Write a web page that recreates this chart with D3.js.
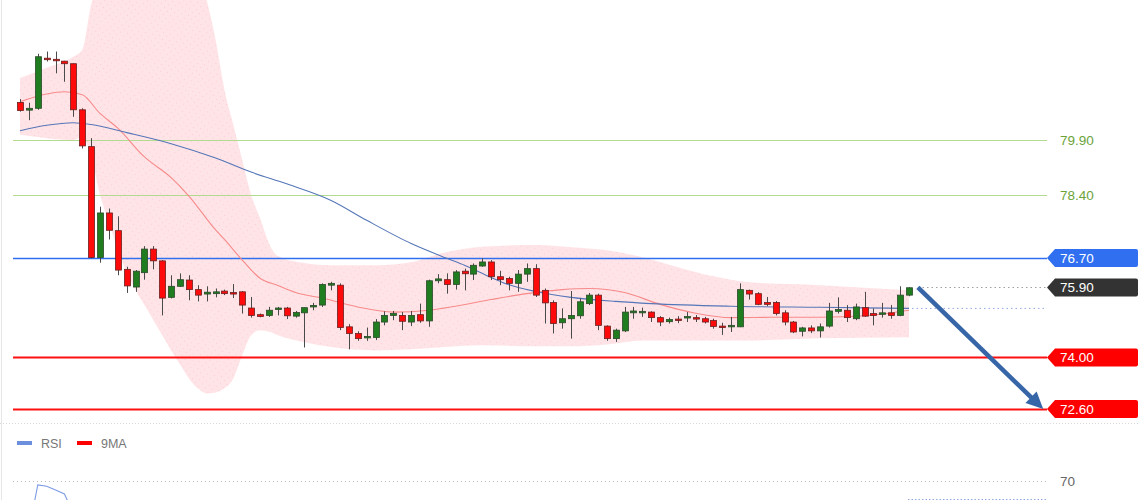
<!DOCTYPE html>
<html><head><meta charset="utf-8">
<script src="https://cdn.jsdelivr.net/npm/d3@7"></script>
<style>html,body{margin:0;padding:0;background:#fff;} svg{display:block;font-family:"Liberation Sans",Arial,sans-serif;}</style>
</head><body><svg id="chart" width="1140" height="500"></svg>
<script>
// ---------- data ----------
const opens = [80.92,80.71,80.76,82.12,82.09,82.04,81.97,80.72,79.72,76.71,
77.92,77.44,76.39,75.91,76.30,76.94,76.62,75.63,75.93,76.10,
75.84,75.72,75.73,75.80,75.76,75.78,75.34,75.16,75.14,75.30,
75.34,75.12,75.21,75.37,75.42,75.96,75.96,74.83,74.65,74.54,
74.54,74.96,75.14,75.14,74.96,75.16,74.99,76.08,76.11,75.98,
76.34,76.26,76.48,76.59,76.19,76.14,76.01,76.26,76.41,75.82,
75.49,74.94,75.05,75.13,75.46,75.69,74.85,74.51,74.72,75.21,
75.22,75.23,75.08,74.97,75.04,75.07,75.08,75.05,75.00,74.85,
74.83,74.83,75.82,75.73,75.49,75.49,75.21,74.96,74.71,74.80,
74.72,74.85,75.25,75.28,75.05,75.35,75.19,75.17,75.21,75.14,
75.69];
const highs = [81.01,80.91,82.24,82.30,82.30,82.05,81.98,80.76,79.95,78.09,
78.04,77.83,76.46,76.37,77.02,77.02,76.64,76.23,76.28,76.23,
75.96,75.93,75.87,75.84,75.99,75.80,75.64,75.19,75.37,75.37,
75.37,75.26,75.35,75.48,76.01,76.05,76.01,74.90,74.71,74.81,
75.04,75.25,75.26,75.23,75.26,75.46,76.11,76.26,76.28,76.37,
76.41,76.55,76.69,76.64,76.35,76.19,76.37,76.55,76.53,75.87,
75.55,75.33,75.80,75.60,75.75,75.73,74.87,74.78,75.37,75.37,
75.35,75.25,75.12,75.08,75.12,75.23,75.15,75.10,75.05,74.94,
75.10,76.01,75.84,75.77,75.64,75.53,75.28,74.99,74.83,74.87,
74.92,75.48,75.63,75.42,75.46,75.78,75.33,75.48,75.42,75.93,
75.90];
const lows = [80.67,80.44,80.72,82.03,81.71,81.48,80.53,79.67,76.69,76.57,
77.20,76.23,75.75,75.78,76.11,76.39,75.14,75.60,75.91,75.55,
75.52,75.52,75.63,75.69,75.61,75.19,75.08,75.09,75.10,75.14,
75.04,75.08,74.27,75.28,75.37,75.82,74.74,74.22,74.45,74.45,
74.47,74.87,75.01,74.74,74.85,74.94,74.83,76.01,75.73,75.84,
75.82,76.10,76.46,76.10,75.96,75.82,75.78,76.05,75.64,74.92,
74.65,74.78,74.51,75.05,75.42,74.74,74.45,74.42,74.69,75.05,
75.10,74.96,74.85,74.92,74.93,74.96,74.96,74.92,74.78,74.61,
74.69,74.82,75.57,75.42,75.39,75.14,74.87,74.66,74.57,74.66,
74.54,74.81,75.19,74.96,75.01,75.10,74.87,75.08,75.05,75.12,
75.66];
const closes = [80.70,80.76,82.16,82.09,82.05,81.97,80.72,79.74,76.71,77.92,
77.45,76.37,75.94,76.34,76.94,76.62,75.61,75.93,76.11,75.84,
75.69,75.77,75.78,75.73,75.73,75.42,75.14,75.11,75.28,75.34,
75.13,75.22,75.35,75.41,75.98,76.01,74.81,74.65,74.51,74.57,
74.96,75.14,75.19,74.98,75.14,74.99,76.08,76.13,75.98,76.32,
76.27,76.50,76.59,76.19,76.11,76.01,76.26,76.41,75.69,75.48,
74.92,75.05,75.14,75.51,75.69,74.87,74.51,74.74,75.23,75.26,
75.25,75.08,74.96,75.03,75.00,75.11,75.04,74.96,74.84,74.81,
74.87,75.84,75.72,75.44,75.44,75.19,74.96,74.69,74.80,74.72,
74.83,75.26,75.30,75.08,75.37,75.12,75.14,75.21,75.14,75.69,
75.89];

// Bollinger band at candle indices
const bandIdx   = [0,3,6,7,8,9,10,11,12,13,14,15,16,17,18,19,20,21,22,23,24,25,26,27,28,29,32,35,40,44,47,52,58,62,66,70,74,78,82,90,100];
const bandUpper = [81.58,81.86,82.16,82.35,83.57,84.30,84.80,85.10,85.25,85.30,85.30,85.30,85.30,85.25,85.20,85.00,84.60,83.70,82.62,81.26,80.31,79.36,78.41,77.78,77.10,76.75,76.56,76.50,76.50,76.58,76.80,77.00,77.05,76.99,76.91,76.72,76.45,76.20,76.04,75.96,75.82];
const bandLower = [80.04,79.95,79.90,79.98,79.45,78.41,77.67,76.91,76.31,75.82,75.42,75.01,74.60,74.19,73.81,73.43,73.16,73.02,73.05,73.16,73.43,74.06,74.60,74.74,74.70,74.60,74.41,74.28,74.19,74.22,74.27,74.33,74.30,74.30,74.35,74.46,74.46,74.46,74.46,74.52,74.55];

// short moving average (red)
const maShortIdx = [0,3,5,7,9,11,14,17,19,22,23,25,27,29,31,34,38,42,46,49,53,57,61,64,68,72,76,80,85,90,95,100];
const maShortVal = [80.94,81.15,81.21,81.13,80.62,80.22,79.44,78.88,78.38,77.46,77.20,76.64,76.15,75.95,75.76,75.61,75.37,75.23,75.28,75.39,75.57,75.73,75.84,75.87,75.76,75.44,75.20,75.08,75.09,75.09,75.13,75.28];
// long moving average (blue)
const maLongIdx = [0,3,6,8,12,17,22,26,30,35,39,44,48,50,53,55,58,62,67,71,80,90,100];
const maLongVal = [80.15,80.30,80.37,80.32,80.10,79.80,79.41,79.03,78.71,78.26,77.72,77.09,76.69,76.50,76.17,75.97,75.79,75.63,75.52,75.46,75.39,75.36,75.33];

// key levels
const levelValues = [79.90, 78.40, 76.70, 75.90, 74.00, 72.60];
const levelLabels = ["79.90","78.40","76.70","75.90","74.00","72.60"];
const levelKinds  = ["target","target","pivot","last","support","support"];

// RSI pane
const rsiIdx = [1,2,3,4,5,6];
const rsiVal = [32,67,66,63,60,45];
const rsiLast = 56;
const rsiLevels = [70];
const legendNames = ["RSI","9MA"];

// ---------- drawing ----------
const svg = d3.select("#chart");
const W = 1140;
const x = d3.scaleLinear().domain([0, 100]).range([20, 909]);
const y = d3.scaleLinear().domain([72.6, 79.9]).range([409, 140]);
const yR = d3.scaleLinear().domain([30, 70]).range([533, 481]);

const defs = svg.append("defs");
const pat = defs.append("pattern").attr("id","dots").attr("patternUnits","userSpaceOnUse")
  .attr("width",5).attr("height",5).attr("patternTransform","rotate(-35)");
pat.append("rect").attr("width",5).attr("height",5).attr("fill","#ffe4e7");
pat.append("rect").attr("x",0).attr("y",0).attr("width",1).attr("height",1).attr("fill","#f9cdd3");
defs.append("clipPath").attr("id","mainClip").append("rect").attr("x",0).attr("y",0).attr("width",W).attr("height",423);
defs.append("clipPath").attr("id","rsiClip").append("rect").attr("x",0).attr("y",425).attr("width",W).attr("height",75);

svg.append("rect").attr("width",W).attr("height",500).attr("fill","#ffffff");

const main = svg.append("g").attr("clip-path","url(#mainClip)");

// band
const bandData = bandIdx.map((d,i)=>({i:d,u:bandUpper[i],l:bandLower[i]}));
main.append("path").datum(bandData)
  .attr("d", d3.area().x(d=>x(d.i)).y0(d=>y(d.l)).y1(d=>y(d.u)).curve(d3.curveMonotoneX))
  .attr("fill","url(#dots)");

// level lines
const levelStyle = {
  target:{stroke:"#b3db8f", w:1, box:null, text:"#6ba33a"},
  pivot:{stroke:"#2f6ff0", w:1.3, box:"#2f6ff0", text:"#fff"},
  last:{stroke:"#a0a0a0", w:1, box:"#333333", text:"#fff"},
  support:{stroke:"#ff1010", w:2, box:"#ff0000", text:"#fff"}
};
levelValues.forEach((v,i)=>{
  const s = levelStyle[levelKinds[i]];
  const yy = Math.round(y(v))+0.5;
  if (levelKinds[i]==="last") {
    main.append("line").attr("x1",918).attr("x2",1047).attr("y1",yy).attr("y2",yy)
      .attr("stroke",s.stroke).attr("stroke-width",1).attr("stroke-dasharray","1.5,3");
  } else {
    main.append("line").attr("x1",13).attr("x2",1047).attr("y1",yy).attr("y2",yy)
      .attr("stroke",s.stroke).attr("stroke-width",s.w);
  }
});

// MA marker dotted
const maLast = maLongVal[maLongVal.length-1];
main.append("line").attr("x1",903).attr("x2",1047).attr("y1",y(maLast)).attr("y2",y(maLast))
  .attr("stroke","#8fa9e0").attr("stroke-width",1).attr("stroke-dasharray","1.5,3");

// moving averages
const lineGen = d3.line().x(d=>x(d[0])).y(d=>y(d[1])).curve(d3.curveMonotoneX);
main.append("path").datum(maShortIdx.map((d,i)=>[d,maShortVal[i]]))
  .attr("d",lineGen).attr("fill","none").attr("stroke","#f78a8a").attr("stroke-width",1.1);
main.append("path").datum(maLongIdx.map((d,i)=>[d,maLongVal[i]]))
  .attr("d",lineGen).attr("fill","none").attr("stroke","#5576b8").attr("stroke-width",1.1);

// candles
const candles = opens.map((o,i)=>({i,o,h:highs[i],l:lows[i],c:closes[i]}));
const cg = main.append("g");
cg.selectAll("line.wick").data(candles).join("line").attr("class","wick")
  .attr("x1",d=>Math.round(x(d.i))+0.5).attr("x2",d=>Math.round(x(d.i))+0.5)
  .attr("y1",d=>y(d.h)).attr("y2",d=>y(d.l)).attr("stroke","#4a4a4a").attr("stroke-width",1);
cg.selectAll("rect.body").data(candles).join("rect").attr("class","body")
  .attr("x",d=>Math.round(x(d.i))-2.5).attr("width",6)
  .attr("y",d=>y(Math.max(d.o,d.c)))
  .attr("height",d=>Math.max(1.5, Math.abs(y(d.o)-y(d.c))))
  .attr("fill",d=>d.c>=d.o?"#1f7d1f":"#ff0a0a")
  .attr("stroke",d=>d.c>=d.o?"#2b4a2b":"#6b2020").attr("stroke-width",0.8);

// arrow
const ax1 = x(101), ay1 = y(levelValues[3]), ax2 = x(115.1), ay2 = y(levelValues[5]);
const ang = Math.atan2(ay2-ay1, ax2-ax1);
const headL = 17, headW = 8;
const bx = ax2 - headL*Math.cos(ang), by = ay2 - headL*Math.sin(ang);
main.append("line").attr("x1",ax1).attr("y1",ay1).attr("x2",bx+2*Math.cos(ang)).attr("y2",by+2*Math.sin(ang))
  .attr("stroke","#3766a8").attr("stroke-width",4.5).attr("stroke-linecap","butt");
main.append("path").attr("d",`M${ax2},${ay2}L${bx+headW*Math.sin(ang)},${by-headW*Math.cos(ang)}L${bx-headW*Math.sin(ang)},${by+headW*Math.cos(ang)}Z`)
  .attr("fill","#3766a8");

// labels
levelValues.forEach((v,i)=>{
  const s = levelStyle[levelKinds[i]];
  const cy = y(v);
  if (s.box) {
    svg.append("path").attr("d",`M1047,${cy}L1055,${cy-9}L1136,${cy-9}Q1138,${cy-9} 1138,${cy-7}L1138,${cy+7}Q1138,${cy+9} 1136,${cy+9}L1055,${cy+9}Z`)
      .attr("fill",s.box);
  }
  svg.append("text").attr("x",1060).attr("y",cy+4.6).attr("font-size",13.5)
    .attr("fill",s.text).text(levelLabels[i]);
});

// separator & border
svg.append("line").attr("x1",0).attr("x2",W).attr("y1",423.5).attr("y2",423.5)
  .attr("stroke","#d8d8d8").attr("stroke-width",1).attr("stroke-dasharray","1,2");
svg.append("line").attr("x1",1.5).attr("x2",1.5).attr("y1",0).attr("y2",500)
  .attr("stroke","#e6e6e6").attr("stroke-width",1);

// legend
const legendColors = ["#6b8fdc","#ff0000"];
const legX = [17,77];
legendNames.forEach((n,i)=>{
  svg.append("rect").attr("x",legX[i]).attr("y",441).attr("width",15).attr("height",4).attr("fill",legendColors[i]);
  svg.append("text").attr("x",legX[i]+24).attr("y",447.5).attr("font-size",12.5).attr("fill","#777").text(n);
});

// RSI pane
const rg = svg.append("g").attr("clip-path","url(#rsiClip)");
rsiLevels.forEach(v=>{
  rg.append("line").attr("x1",13).attr("x2",1046).attr("y1",Math.round(yR(v))+0.5).attr("y2",Math.round(yR(v))+0.5)
    .attr("stroke","#bbbbbb").attr("stroke-width",1).attr("stroke-dasharray","1,3");
  svg.append("text").attr("x",1060).attr("y",yR(v)+4.6).attr("font-size",13.5).attr("fill","#666").text(String(v));
});
rg.append("line").attr("x1",908).attr("x2",1047).attr("y1",Math.round(yR(rsiLast))+0.5).attr("y2",Math.round(yR(rsiLast))+0.5)
  .attr("stroke","#8fa9e0").attr("stroke-width",1).attr("stroke-dasharray","1.5,2");
rg.append("path").datum(rsiIdx.map((d,i)=>[d,rsiVal[i]]))
  .attr("d",d3.line().x(d=>x(d[0])).y(d=>yR(d[1])))
  .attr("fill","none").attr("stroke","#7d9be3").attr("stroke-width",1.1);
</script></body></html>
